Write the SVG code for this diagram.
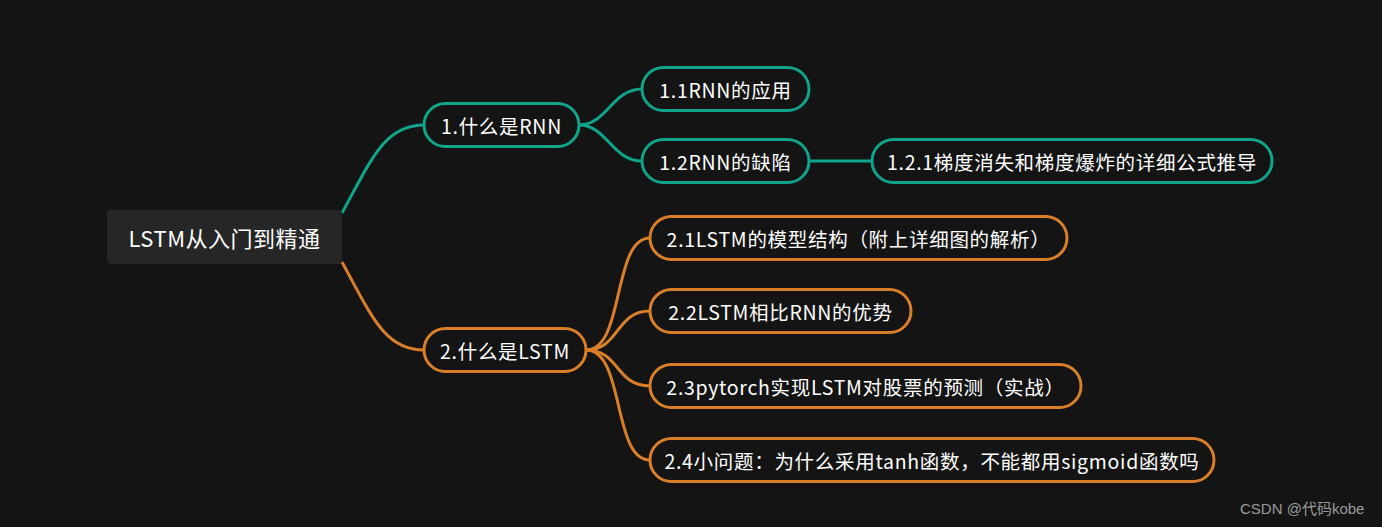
<svg xmlns="http://www.w3.org/2000/svg" width="1382" height="527" viewBox="0 0 1382 527">
<style>
.bg{fill:#141414}
.pill{fill:#141414;stroke-width:3}
.t{stroke:#10a58b}
.o{stroke:#d97f2a}
.lbl{font-family:"Noto Sans CJK SC","Noto Sans",sans-serif;font-size:19.5px;letter-spacing:0.7px;fill:#ffffff;text-anchor:middle;dominant-baseline:central}
.root-lbl{font-size:22px;letter-spacing:0.5px}
.edge{fill:none;stroke-width:3}
.wm{font-family:"Liberation Sans","Noto Sans CJK SC",sans-serif;font-size:15px;fill:#9a9a9a}
</style>
<rect class="bg" x="0" y="0" width="1382" height="527"/>
<g id="connectors">
<path class="edge t" d="M342,213 C372,158 385,125 424,125"/>
<path class="edge o" d="M342,262 C372,317 385,350 424,350"/>
<path class="edge t" d="M579,125 C607,125 612,89 642,89"/>
<path class="edge t" d="M579,125 C607,125 612,161 642,161"/>
<path class="edge t" d="M809,161 L872,161"/>
<path class="edge o" d="M586,350 C625,350 612,238 650,238"/>
<path class="edge o" d="M586,350 C620,350 615,311 650,311"/>
<path class="edge o" d="M586,350 C620,350 615,386 650,386"/>
<path class="edge o" d="M586,350 C625,350 612,460 650,460"/>
</g>
<g id="root">
<rect x="107" y="210" width="235" height="54" rx="4" fill="#262626"/>
<text class="lbl root-lbl" x="224.5" y="237">LSTM从入门到精通</text>
</g>
<g id="n1">
<rect class="pill t" x="424" y="103.5" width="155" height="43" rx="21.5"/>
<text class="lbl" x="501.5" y="125">1.什么是RNN</text>
</g>
<g id="n1-1">
<rect class="pill t" x="642" y="67.5" width="167" height="43" rx="21.5"/>
<text class="lbl" x="725.5" y="89">1.1RNN的应用</text>
</g>
<g id="n1-2">
<rect class="pill t" x="642" y="139.5" width="167" height="43" rx="21.5"/>
<text class="lbl" x="725.5" y="161">1.2RNN的缺陷</text>
</g>
<g id="n1-2-1">
<rect class="pill t" x="872" y="139.5" width="400" height="43" rx="21.5"/>
<text class="lbl" x="1072" y="161">1.2.1梯度消失和梯度爆炸的详细公式推导</text>
</g>
<g id="n2">
<rect class="pill o" x="424" y="328.5" width="162" height="43" rx="21.5"/>
<text class="lbl" x="505" y="350">2.什么是LSTM</text>
</g>
<g id="n2-1">
<rect class="pill o" x="650" y="216.5" width="417" height="43" rx="21.5"/>
<text class="lbl" x="858.5" y="238">2.1LSTM的模型结构（附上详细图的解析）</text>
</g>
<g id="n2-2">
<rect class="pill o" x="650" y="289.5" width="261" height="43" rx="21.5"/>
<text class="lbl" x="780.5" y="311">2.2LSTM相比RNN的优势</text>
</g>
<g id="n2-3">
<rect class="pill o" x="650" y="364.5" width="431" height="43" rx="21.5"/>
<text class="lbl" x="865.5" y="386">2.3pytorch实现LSTM对股票的预测（实战）</text>
</g>
<g id="n2-4">
<rect class="pill o" x="650" y="438.5" width="564" height="43" rx="21.5"/>
<text class="lbl" x="932" y="460">2.4小问题：为什么采用tanh函数，不能都用sigmoid函数吗</text>
</g>
<text class="wm" x="1240" y="514">CSDN @代码kobe</text>
</svg>
